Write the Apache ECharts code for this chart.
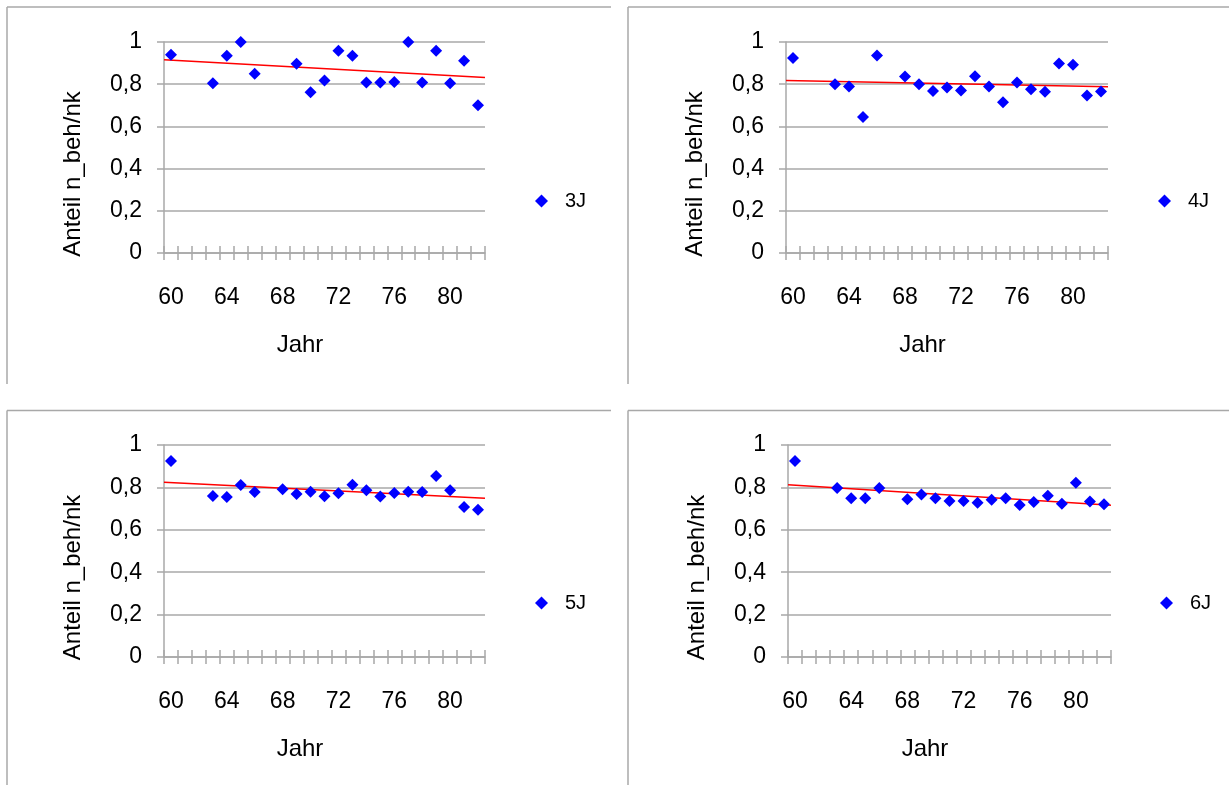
<!DOCTYPE html>
<html style="height: 100%">
<head>
    <meta charset="utf-8">
    <title>Anteil n_beh/nk je Jahr</title>
    <script src="https://cdn.jsdelivr.net/npm/echarts@6/dist/echarts.min.js"></script>
</head>
<body style="margin: 0; height: 100%; background: #fff">
    <div id="main" style="width: 1229px; height: 785px"></div>
    <script>
        // Kategorien (Jahre 1960-1982)
        const jahre = ['60', '61', '62', '63', '64', '65', '66', '67', '68', '69', '70', '71',
            '72', '73', '74', '75', '76', '77', '78', '79', '80', '81', '82'];

        // 3J
        const years3J = [60, 63, 64, 65, 66, 69, 70, 71, 72, 73, 74, 75, 76, 77, 78, 79, 80, 81, 82];
        const vals3J = [0.94, 0.805, 0.935, 1.0, 0.849, 0.897, 0.762, 0.818, 0.959, 0.935, 0.808, 0.808,
            0.811, 1.0, 0.808, 0.959, 0.805, 0.911, 0.70];
        const trend3J = [0.916, 0.832];

        // 4J
        const years4J = [60, 63, 64, 65, 66, 68, 69, 70, 71, 72, 73, 74, 75, 76, 77, 78, 79, 80, 81, 82];
        const vals4J = [0.924, 0.80, 0.789, 0.645, 0.936, 0.837, 0.80, 0.768, 0.784, 0.77, 0.838, 0.789,
            0.715, 0.808, 0.776, 0.764, 0.898, 0.892, 0.746, 0.765];
        const trend4J = [0.818, 0.788];

        // 5J
        const years5J = [60, 63, 64, 65, 66, 68, 69, 70, 71, 72, 73, 74, 75, 76, 77, 78, 79, 80, 81, 82];
        const vals5J = [0.925, 0.76, 0.755, 0.811, 0.778, 0.791, 0.769, 0.78, 0.758, 0.772, 0.813, 0.786,
            0.757, 0.774, 0.78, 0.778, 0.854, 0.786, 0.708, 0.695];
        const trend5J = [0.824, 0.749];

        // 6J
        const years6J = [60, 63, 64, 65, 66, 68, 69, 70, 71, 72, 73, 74, 75, 76, 77, 78, 79, 80, 81, 82];
        const vals6J = [0.925, 0.797, 0.749, 0.749, 0.797, 0.744, 0.767, 0.749, 0.736, 0.736, 0.728, 0.742,
            0.749, 0.717, 0.731, 0.761, 0.723, 0.822, 0.733, 0.72];
        const trend6J = [0.813, 0.716];

        const font = "'Liberation Sans', Arial, sans-serif";
        const lineGrey = '#a8a8a8';

        // Layout der vier Diagramme
        const panels = [
            { name: '3J', years: years3J, values: vals3J, trend: trend3J,
              grid: { left: 164, top: 42, width: 321, height: 211 }, legend: { left: 535, top: 191 },
              frame: { x: 7, y: 7, w: 604, h: 377 } },
            { name: '4J', years: years4J, values: vals4J, trend: trend4J,
              grid: { left: 786, top: 42, width: 322, height: 211 }, legend: { left: 1158, top: 191 },
              frame: { x: 628, y: 7, w: 610, h: 377 } },
            { name: '5J', years: years5J, values: vals5J, trend: trend5J,
              grid: { left: 164, top: 445, width: 321, height: 212 }, legend: { left: 535, top: 593 },
              frame: { x: 7, y: 410.5, w: 604, h: 380 } },
            { name: '6J', years: years6J, values: vals6J, trend: trend6J,
              grid: { left: 788, top: 445, width: 323, height: 212 }, legend: { left: 1160, top: 593 },
              frame: { x: 628, y: 410.5, w: 610, h: 380 } }
        ];

        const chart = echarts.init(document.getElementById('main'));

        const grid = [], xAxis = [], yAxis = [], series = [], legend = [], graphic = [];

        panels.forEach((p, i) => {
            grid.push(Object.assign({ containLabel: false }, p.grid));

            // Hauptachse mit Beschriftung, Striche nach außen
            xAxis.push({
                gridIndex: i,
                type: 'category',
                position: 'bottom',
                data: jahre,
                boundaryGap: true,
                axisLine: { lineStyle: { color: lineGrey, width: 1.5 } },
                axisTick: { show: true, interval: 0, length: 7, lineStyle: { color: lineGrey, width: 1.5 } },
                axisLabel: { interval: 3, margin: 33, fontSize: 23, color: '#000', fontFamily: font },
                splitLine: { show: false },
                name: 'Jahr',
                nameLocation: 'middle',
                nameGap: 80,
                nameTextStyle: { fontSize: 24, color: '#000', fontFamily: font, padding: [0, 49, 0, 0] }
            });
            // zweite Achse nur für die Striche nach innen (Kreuzstriche)
            xAxis.push({
                gridIndex: i,
                type: 'category',
                position: 'bottom',
                data: jahre,
                boundaryGap: true,
                axisLine: { show: false },
                axisTick: { show: true, inside: true, interval: 0, length: 7, lineStyle: { color: lineGrey, width: 1.5 } },
                axisLabel: { show: false },
                splitLine: { show: false }
            });
            // unsichtbare Achse für die Trendlinie über die ganze Breite
            xAxis.push({ gridIndex: i, type: 'value', min: 0, max: 1, show: false });

            yAxis.push({
                gridIndex: i,
                type: 'value',
                min: 0,
                max: 1,
                interval: 0.2,
                axisLine: { show: true, lineStyle: { color: lineGrey, width: 1.5 } },
                axisTick: { show: true, length: 7, lineStyle: { color: lineGrey, width: 1.5 } },
                splitLine: { lineStyle: { color: lineGrey, width: 1.5 } },
                axisLabel: {
                    margin: 22, fontSize: 23, color: '#000', fontFamily: font, padding: [6, 0, 0, 0],
                    formatter: v => String(Math.round(v * 10) / 10).replace('.', ',')
                },
                name: 'Anteil n_beh/nk',
                nameLocation: 'middle',
                nameRotate: 90,
                nameGap: 79,
                nameTextStyle: { fontSize: 24, color: '#000', fontFamily: font, padding: [0, 53, 0, 0] }
            });

            series.push({
                name: p.name,
                type: 'scatter',
                xAxisIndex: i * 3,
                yAxisIndex: i,
                symbol: 'diamond',
                symbolSize: 12,
                clip: false,
                z: 3,
                itemStyle: { color: '#0000ff', opacity: 1 },
                data: p.years.map((y, k) => [String(y), p.values[k]])
            });
            series.push({
                name: p.name + ' Trend',
                type: 'line',
                xAxisIndex: i * 3 + 2,
                yAxisIndex: i,
                symbol: 'none',
                silent: true,
                z: 2,
                lineStyle: { color: '#ff0000', width: 1.5 },
                data: [[0, p.trend[0]], [1, p.trend[1]]]
            });

            legend.push({
                data: [{ name: p.name, icon: 'path://M0,-1L1,0L0,1L-1,0Z' }],
                left: p.legend.left,
                top: p.legend.top,
                padding: 0,
                itemWidth: 37,
                itemHeight: 13,
                selectedMode: false,
                itemStyle: { opacity: 1 },
                textStyle: { fontSize: 20, color: '#000', fontFamily: font }
            });

            const f = p.frame;
            graphic.push({ type: 'line', silent: true, shape: { x1: f.x, y1: f.y, x2: f.x + f.w, y2: f.y },
                style: { stroke: lineGrey, lineWidth: 1.5 } });
            graphic.push({ type: 'line', silent: true, shape: { x1: f.x, y1: f.y, x2: f.x, y2: f.y + f.h },
                style: { stroke: lineGrey, lineWidth: 1.5 } });
        });

        chart.setOption({
            animation: false,
            backgroundColor: '#fff',
            grid: grid,
            xAxis: xAxis,
            yAxis: yAxis,
            legend: legend,
            graphic: graphic,
            series: series
        });
    </script>
</body>
</html>
